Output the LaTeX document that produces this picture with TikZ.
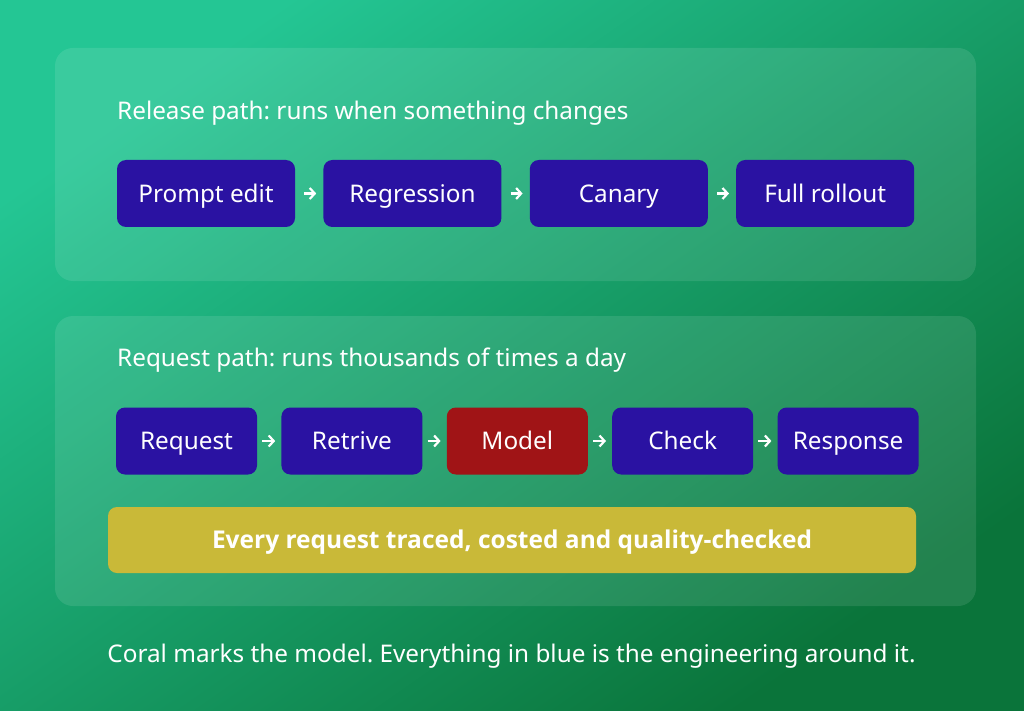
\documentclass[tikz,border=0pt]{standalone}
\usepackage{fontspec}
\setmainfont{Noto Sans}
\newfontfamily\barfont{Open Sans}
\usetikzlibrary{positioning,arrows.meta}
\definecolor{bgtop}{RGB}{36,198,148}
\definecolor{bgbot}{RGB}{10,116,58}
\definecolor{stageblue}{RGB}{42,18,162}
\definecolor{coral}{RGB}{160,20,22}
\definecolor{barbg}{RGB}{201,185,56}
\frenchspacing

\begin{document}
\begin{tikzpicture}[x=1pt, y=-1pt,
    panel/.style={fill=white, fill opacity=0.1, rounded corners=18pt, inner sep=0pt},
    title/.style={anchor=base west, text=white, inner sep=0pt, font=\fontsize{24.3}{29}\selectfont},
    stage/.style={fill=stageblue, text=white, rounded corners=9pt, inner sep=0pt,
        minimum height=67pt, text height=17.4pt, text depth=0pt,
        font=\fontsize{24.3}{29}\selectfont},
    wide/.style={stage, minimum width=178pt},
    narrow/.style={stage, minimum width=141pt},
    flow/.style={white, line width=2.2pt, -{Straight Barb[length=5pt, width=11pt]}}
]
    % background
    \useasboundingbox (0,0) rectangle (1024,711);
    \shade[top color=bgtop, bottom color=bgbot, shading angle=35] (0,0) rectangle (1024,711);

    % release path
    \node[panel, minimum width=921pt, minimum height=233pt] (relpanel) at (515.5,164.5) {};
    \node[title] (reltitle) at (117,120) {Release path: runs when something changes};
    \node[wide] (prompt) at (206,193.5) {Prompt edit};
    \node[wide, right=28pt of prompt] (regr) {Regression};
    \node[wide, right=28pt of regr] (canary) {Canary};
    \node[wide, right=28pt of canary] (rollout) {Full rollout};
    \foreach \a/\b in {prompt/regr, regr/canary, canary/rollout}
        \draw[flow, shorten <=9pt, shorten >=7pt] (\a) -- (\b);

    % request path
    \node[panel, minimum width=921pt, minimum height=290pt] (reqpanel) at (515.5,461) {};
    \node[title] (reqtitle) at (117,366) {Request path: runs thousands of times a day};
    \node[narrow] (req) at (186.5,441) {Request};
    \node[narrow, right=24pt of req] (retr) {Retrive};
    \node[narrow, right=24pt of retr, fill=coral] (model) {Model};
    \node[narrow, right=24pt of model] (check) {Check};
    \node[narrow, right=24pt of check] (resp) {Response};
    \foreach \a/\b in {req/retr, retr/model, model/check, check/resp}
        \draw[flow, shorten <=5pt, shorten >=6pt] (\a) -- (\b);
    \node[fill=barbg, text=white, rounded corners=9pt, minimum width=808pt, minimum height=66pt,
        text height=17.4pt, text depth=0pt,
        font=\barfont\fontsize{24.5}{29}\selectfont\bfseries] (trace) at (512,540)
        {Every request traced, costed and quality-checked};

    % caption
    \node[anchor=base, inner sep=0pt, text=white, font=\fontsize{24.3}{29}\selectfont] (note) at (511.5,662)
        {Coral marks the model. Everything in blue is the engineering around it.};
\end{tikzpicture}
\end{document}
